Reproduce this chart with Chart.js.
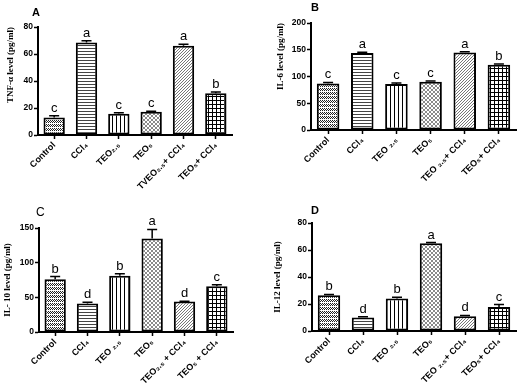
<!DOCTYPE html>
<html>
<head>
<meta charset="utf-8">
<script src="https://cdn.jsdelivr.net/npm/chart.js@4"></script>
<style>
  body { margin: 0; background: #fff; }
  #wrap { position: relative; width: 527px; height: 390px; }
  #wrap canvas { position: absolute; }
</style>
</head>
<body>
<div id="wrap">
  <canvas id="pA" width="262" height="195" style="left:0;top:0"></canvas>
  <canvas id="pB" width="265" height="195" style="left:262px;top:0"></canvas>
  <canvas id="pC" width="262" height="195" style="left:0;top:195px"></canvas>
  <canvas id="pD" width="265" height="195" style="left:262px;top:195px"></canvas>
</div>
<script>
// groups (x labels)
const groupsA = ['Control', 'CCl₄', 'TEO₂.₅', 'TEO₅', 'TVEO₂.₅+ CCl₄', 'TEO₅+ CCl₄'];
const groupsB = ['Control', 'CCl₄', 'TEO ₂.₅', 'TEO₅', 'TEO ₂.₅+ CCl₄', 'TEO₅+ CCl₄'];
const groupsC = ['Control', 'CCl₄', 'TEO ₂.₅', 'TEO₅', 'TEO₂.₅ + CCl₄', 'TEO₅ + CCl₄'];
const groupsD = ['Control', 'CCl₄', 'TEO ₂.₅', 'TEO₅', 'TEO ₂.₅+ CCl₄', 'TEO₅+ CCl₄'];

// A - TNF-alpha
const tnfMean = [13, 68.5, 15.8, 17.3, 66.2, 31];
const tnfErr = [1.2, 1.4, 0.6, 0.3, 1.0, 0.8];
const tnfLetters = ['c', 'a', 'c', 'c', 'a', 'b'];
// B - IL-6
const il6Mean = [87, 144, 86, 90, 145, 122];
const il6Err = [1.8, 1.2, 1.8, 1.6, 1.2, 1.2];
const il6Letters = ['c', 'a', 'c', 'c', 'a', 'b'];
// C - IL-10
const il10Mean = [76, 41, 81, 135, 44, 66];
const il10Err = [4, 2, 3, 13, 0.5, 2];
const il10Letters = ['b', 'd', 'b', 'a', 'd', 'c'];
// D - IL-12
const il12Mean = [26.5, 10, 24, 65, 11, 17.8];
const il12Err = [0.6, 0.6, 1.0, 0.5, 0.5, 1.8];
const il12Letters = ['b', 'd', 'b', 'a', 'd', 'c'];

// fill patterns, one per group
function tile(w, h, draw) {
  const c = document.createElement('canvas');
  c.width = w; c.height = h;
  const g = c.getContext('2d');
  g.fillStyle = '#fff'; g.fillRect(0, 0, w, h);
  g.fillStyle = '#000';
  draw(g);
  return g.createPattern(c, 'repeat');
}
const patterns = [
  tile(4, 4, g => { g.fillStyle = '#222'; for (let y = 0; y < 3; y++) for (let x = 0; x < 4; x++) if ((x + y) % 2 == 0) g.fillRect(x, y, 1, 1); }),
  tile(1, 3, g => { g.fillStyle = '#444'; g.fillRect(0, 0, 1, 1); }),
  tile(4, 1, g => { g.fillRect(0, 0, 1, 1); }),
  tile(4, 4, g => { g.fillStyle = '#8a8a8a'; for (let i = 0; i < 4; i++) { g.fillRect(i, i, 1, 1); g.fillRect(i, 3 - i, 1, 1); } }),
  tile(3, 3, g => { g.fillStyle = '#777'; for (let i = 0; i < 3; i++) g.fillRect(i, 2 - i, 1, 1); }),
  tile(4, 4, g => { g.fillRect(0, 0, 4, 1); g.fillRect(0, 0, 1, 4); })
];

function extras(mean, err, letters, tag) {
  return {
    id: 'extras',
    afterDatasetsDraw(chart) {
      const ctx = chart.ctx, y = chart.scales.y;
      ctx.save();
      ctx.strokeStyle = '#000';
      ctx.lineWidth = 1.5;
      ctx.fillStyle = '#000';
      ctx.textAlign = 'center';
      ctx.font = '13px "Liberation Sans", Arial, sans-serif';
      chart.getDatasetMeta(0).data.forEach((bar, i) => {
        const top = y.getPixelForValue(mean[i] + err[i]);
        ctx.beginPath();
        ctx.moveTo(bar.x, bar.y);
        ctx.lineTo(bar.x, top);
        ctx.moveTo(bar.x - 5, top);
        ctx.lineTo(bar.x + 5, top);
        ctx.stroke();
        ctx.fillText(letters[i], bar.x, top - 4);
      });
      ctx.textAlign = 'left';
      ctx.font = tag.font;
      ctx.fillText(tag.text, tag.x, tag.y);
      ctx.restore();
    }
  };
}

function panel(id, p) {
  new Chart(document.getElementById(id), {
    type: 'bar',
    data: {
      labels: p.labels,
      datasets: [{
        data: p.mean,
        backgroundColor: patterns,
        borderColor: '#000',
        borderWidth: 2,
        borderSkipped: false,
        barPercentage: 0.66,
        categoryPercentage: 1
      }]
    },
    options: {
      responsive: false,
      animation: false,
      events: [],
      layout: { padding: { left: p.padL, top: p.padT, right: p.padR, bottom: 0 } },
      plugins: { legend: { display: false }, tooltip: { enabled: false } },
      scales: {
        x: {
          offset: true,
          grid: { offset: false, drawOnChartArea: false, color: '#000', tickLength: 4, tickWidth: 1.5 },
          border: { color: '#000', width: 2 },
          ticks: {
            minRotation: 45, maxRotation: 45, autoSkip: false, color: '#000', padding: 1,
            font: { family: '"Liberation Sans", Arial, sans-serif', weight: 'bold', size: 9 }
          },
          afterFit: s => { s.height = p.xH; }
        },
        y: {
          min: 0, max: p.max,
          grid: { drawOnChartArea: false, color: '#000', tickLength: 4, tickWidth: 1.5 },
          border: { color: '#000', width: 2 },
          ticks: {
            stepSize: p.step, color: '#000', padding: 1,
            font: { family: '"Liberation Sans", Arial, sans-serif', weight: 'bold', size: 8.5 }
          },
          title: {
            display: true, text: p.title, color: '#000', align: p.align,
            padding: { top: p.titlePad, bottom: 0 },
            font: { family: '"Liberation Serif", "Times New Roman", serif', weight: 'bold', size: 9 }
          },
          afterFit: s => { s.width = p.yW; }
        }
      }
    },
    plugins: [extras(p.mean, p.err, p.letters, p.tag)]
  });
}

panel('pA', {
  labels: groupsA, mean: tnfMean, err: tnfErr, letters: tnfLetters,
  max: 80, step: 20, title: 'TNF-α level (pg/ml)', align: 'end', titlePad: 3,
  padL: 2, yW: 36, padT: 27, padR: 30, xH: 60,
  tag: { text: 'A', x: 32, y: 16, font: 'bold 11px "Liberation Sans", Arial, sans-serif' }
});
panel('pB', {
  labels: groupsB, mean: il6Mean, err: il6Err, letters: il6Letters,
  max: 200, step: 50, title: 'IL-6 level (pg/ml)', align: 'end', titlePad: 5,
  padL: 8, yW: 41, padT: 23, padR: 11, xH: 65,
  tag: { text: 'B', x: 49, y: 11, font: 'bold 11px "Liberation Sans", Arial, sans-serif' }
});
panel('pC', {
  labels: groupsC, mean: il10Mean, err: il10Err, letters: il10Letters,
  max: 150, step: 50, title: 'IL- 10 level (pg/ml)', align: 'center', titlePad: 2,
  padL: 0, yW: 39, padT: 33, padR: 29, xH: 58,
  tag: { text: 'C', x: 36, y: 21, font: '12px "Liberation Sans", Arial, sans-serif' }
});
panel('pD', {
  labels: groupsD, mean: il12Mean, err: il12Err, letters: il12Letters,
  max: 80, step: 20, title: 'IL-12 level (pg/ml)', align: 'center', titlePad: 5,
  padL: 5, yW: 45, padT: 28, padR: 11, xH: 59,
  tag: { text: 'D', x: 49, y: 19, font: 'bold 11px "Liberation Sans", Arial, sans-serif' }
});
</script>
</body>
</html>
